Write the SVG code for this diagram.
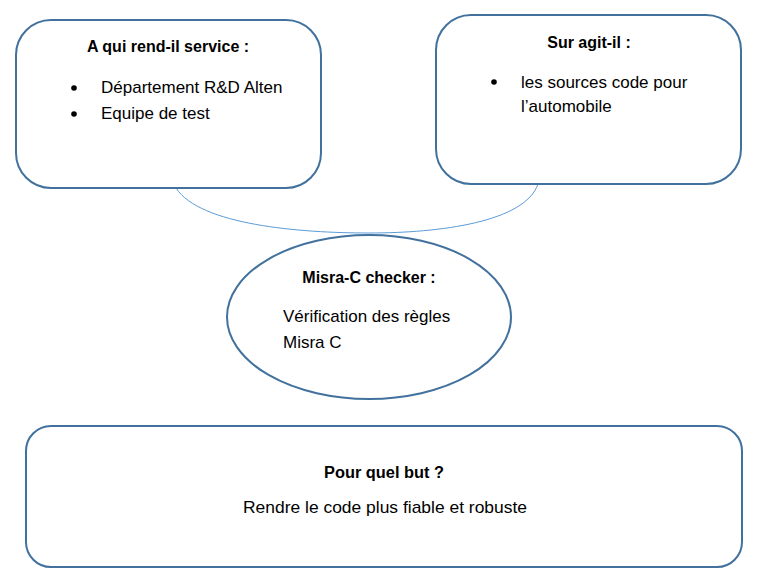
<svg xmlns="http://www.w3.org/2000/svg" width="763" height="582" viewBox="0 0 763 582">
<style>
.box{fill:#fff;stroke:#41719c;stroke-width:2}
.t{font-family:"Liberation Sans",Arial,sans-serif;font-size:17px;fill:#000}
.b{font-weight:bold;font-size:16px}
.bul{fill:#000}
.con{fill:none;stroke:#5b9bd5;stroke-width:1}
</style>
<rect width="763" height="582" fill="#fff"/>
<g id="connectors">
<path class="con" d="M176,188 C200,225 300,233 369,233 C440,233 525,222 538,184"/>
</g>
<g id="service">
<rect class="box" x="16" y="20" width="305" height="168" rx="35"/>
<text class="t b" x="168" y="52" text-anchor="middle">A qui rend-il service :</text>
<circle class="bul" cx="74" cy="88" r="2.8"/>
<circle class="bul" cx="74" cy="114" r="2.8"/>
<text class="t" x="101" y="93">Département R&amp;D Alten</text>
<text class="t" x="101" y="119">Equipe de test</text>
</g>
<g id="agit">
<rect class="box" x="436" y="15" width="305" height="169" rx="35"/>
<text class="t b" x="589" y="48" text-anchor="middle">Sur agit-il :</text>
<circle class="bul" cx="494" cy="82" r="2.8"/>
<text class="t" x="521" y="88">les sources code pour</text>
<text class="t" x="521" y="112">l’automobile</text>
</g>
<g id="misra">
<ellipse class="box" cx="369" cy="317" rx="142" ry="82"/>
<text class="t b" x="369" y="283" text-anchor="middle">Misra-C checker :</text>
<text class="t" x="283" y="322">Vérification des règles</text>
<text class="t" x="283" y="348">Misra C</text>
</g>
<g id="but">
<rect class="box" x="26" y="426" width="716" height="141" rx="25"/>
<text class="t b" x="384" y="478" text-anchor="middle" textLength="120" lengthAdjust="spacingAndGlyphs">Pour quel but ?</text>
<text class="t" x="385" y="513" text-anchor="middle" textLength="284" lengthAdjust="spacingAndGlyphs">Rendre le code plus fiable et robuste</text>
</g>
</svg>
